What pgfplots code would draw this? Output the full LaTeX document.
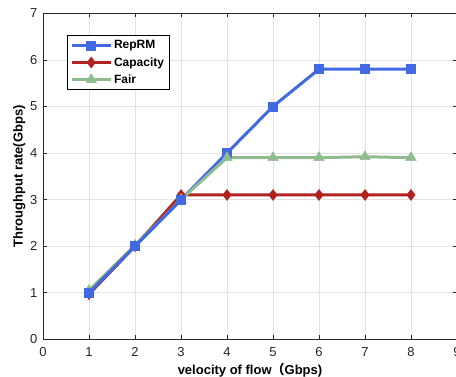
\documentclass[border=0pt]{standalone}
\usepackage{pgfplots}
\pgfplotsset{compat=1.18}
\usepackage{fontspec}
\setmainfont{Liberation Sans}
\newfontfamily\cjk{Noto Sans CJK SC}
\definecolor{cblue}{RGB}{65,105,225}
\definecolor{cred}{RGB}{178,34,34}
\definecolor{cgreen}{RGB}{143,188,143}
\definecolor{axgray}{RGB}{38,38,38}
\begin{document}
\begin{tikzpicture}[x=1pt,y=1pt]
\path[use as bounding box, clip] (-43,-37.7) rectangle (413,339.3);
\begin{axis}[
  at={(0,0)}, anchor=south west,
  scale only axis, width=414pt, height=326pt,
  xmin=0, xmax=9, ymin=0, ymax=7,
  xtick={0,...,9}, ytick={0,...,7},
  grid=major, major grid style={gray!22, line width=0.6pt},
  axis line style={axgray, line width=0.7pt},
  tick style={axgray, line width=0.6pt}, tick align=inside,
  major tick length=4pt,
  ticklabel style={font=\fontsize{13}{14}\selectfont, text=axgray},
  xticklabel style={yshift=-5pt},
  yticklabel style={xshift=-2pt},
  /pgf/number format/assume math mode=true,
  xlabel={\textbf{velocity of flow{\cjk （}Gbps)}},
  ylabel={\textbf{Throughput rate(Gbps)}},
  label style={font=\fontsize{13}{14}\selectfont, text=black},
  xlabel style={yshift=1pt},
  ylabel style={yshift=-2pt},
  legend style={at={(24pt,304pt)}, anchor=north west, draw=black, line width=0.7pt,
    font=\bfseries\fontsize{12}{13}\selectfont, row sep=3pt, inner sep=3pt,
    cells={anchor=west}},
  legend cell align=left,
  legend image code/.code={
    \draw[#1, mark repeat=2, mark phase=2] plot coordinates {(0cm,0cm) (0.68cm,0cm) (1.36cm,0cm)};
  },
  every axis plot/.append style={line width=3pt},
]
\addplot[cblue, mark=square*, mark size=4.5pt, mark options={line width=0.5pt}] coordinates {(1,1) (2,2) (3,3) (4,4) (5,5) (6,5.8) (7,5.8) (8,5.8)};
\addplot[cred, mark=diamond*, mark size=5.5pt, mark options={line width=0.5pt}] coordinates {(1,0.97) (2,2) (3,3.1) (4,3.1) (5,3.1) (6,3.1) (7,3.1) (8,3.1)};
\addplot[cgreen, mark=triangle*, mark size=6pt, mark options={line width=0.5pt}] coordinates {(1,1.05) (2,2.02) (3,3.0) (4,3.9) (5,3.9) (6,3.9) (7,3.92) (8,3.9)};
\addplot[cblue, mark=square*, mark size=4.5pt, mark options={line width=0.5pt}, forget plot] coordinates {(1,1) (2,2) (3,3)};
\legend{RepRM, Capacity, Fair}
\end{axis}
\end{tikzpicture}
\end{document}
